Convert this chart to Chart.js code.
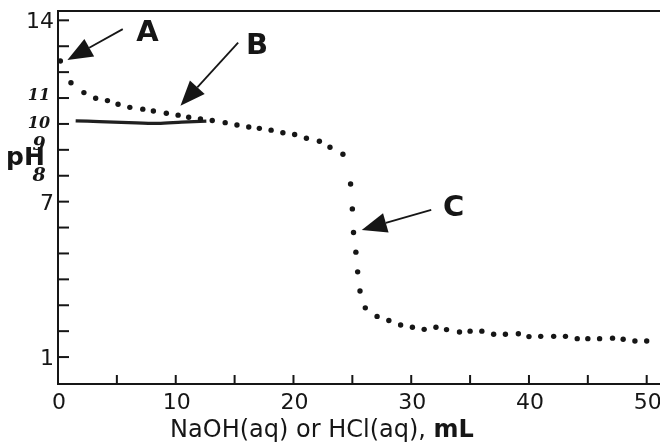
<!DOCTYPE html>
<html>
<head>
<meta charset="utf-8">
<script src="https://cdn.jsdelivr.net/npm/chart.js@4.4.1/dist/chart.umd.min.js"></script>
<style>
  html, body { margin: 0; padding: 0; background: #fff; }
  #wrap { width: 660px; height: 442px; }
</style>
</head>
<body>
<div id="wrap"><canvas id="chart" width="660" height="442"></canvas></div>
<script>
// Titration curve data
const volumeML = [0.2, 1.1, 2.2, 3.2, 4.2, 5.1, 6.1, 7.2, 8.1, 9.2, 10.2, 11.1, 12.1, 13.1, 14.2,
  15.2, 16.2, 17.1, 18.1, 19.1, 20.1, 21.1, 22.2, 23.1, 24.2, 24.85, 25.0, 25.1, 25.3, 25.45,
  25.65, 26.1, 27.1, 28.1, 29.1, 30.1, 31.1, 32.1, 33.0, 34.1, 35.0, 36.0, 37.0, 38.0, 39.1,
  40.0, 41.0, 42.1, 43.1, 44.1, 45.0, 46.0, 47.1, 48.0, 49.0, 50.0];
const phValues = [12.43, 11.59, 11.21, 10.99, 10.90, 10.76, 10.64, 10.57, 10.50, 10.41, 10.34, 10.26, 10.19, 10.13, 10.05,
  9.96, 9.88, 9.83, 9.76, 9.66, 9.59, 9.45, 9.33, 9.10, 8.83, 7.68, 6.72, 5.81, 5.05, 4.29,
  3.55, 2.90, 2.57, 2.41, 2.24, 2.15, 2.07, 2.15, 2.06, 1.97, 2.00, 2.00, 1.88, 1.88, 1.90,
  1.79, 1.80, 1.80, 1.80, 1.71, 1.71, 1.71, 1.73, 1.69, 1.62, 1.62];

// hand-drawn pen line across the plot
const penVolume = [1.5, 3.5, 6, 8.5, 10.5, 12.6];
const penPH = [10.12, 10.09, 10.05, 10.02, 10.07, 10.11];

// axes
const xTicks = [0, 5, 10, 15, 20, 25, 30, 35, 40, 45, 50];
const xLabels = ['0', '', '10', '', '20', '', '30', '', '40', '', '50'];
const yTicks = [1, 2, 3, 4, 5, 6, 7, 8, 9, 10, 11, 12, 13, 14];
const yLabels = ['1', '', '', '', '', '', '7', '', '', '', '', '', '', '14'];
const handNumbers = ['11', '10', '9', '8'];
const handValues = [11.1, 10.0, 9.2, 8.0];

// annotations: label, arrow tip (mL, pH), arrow tail, label position
const noteLabels = ['A', 'B', 'C'];
const noteTips = [[0.8, 12.47], [10.4, 10.7], [25.8, 5.91]];
const noteTails = [[5.5, 13.66], [15.3, 13.14], [31.7, 6.68]];
const notePos = [[7.6, 13.5], [16.9, 13.0], [33.6, 6.72]];

const INK = '#161616';
const FONT = "'DejaVu Sans', Verdana, sans-serif";

function arrow(ctx, x1, y1, x2, y2) {
  const ang = Math.atan2(y2 - y1, x2 - x1);
  const headLen = 25, headW = 10;
  const bx = x2 - headLen * Math.cos(ang), by = y2 - headLen * Math.sin(ang);
  ctx.beginPath();
  ctx.moveTo(x1, y1);
  ctx.lineTo(bx, by);
  ctx.lineWidth = 1.8;
  ctx.strokeStyle = INK;
  ctx.stroke();
  ctx.beginPath();
  ctx.moveTo(x2, y2);
  ctx.lineTo(bx + headW * Math.sin(ang), by - headW * Math.cos(ang));
  ctx.lineTo(bx - headW * Math.sin(ang), by + headW * Math.cos(ang));
  ctx.closePath();
  ctx.fillStyle = INK;
  ctx.fill();
}

const decor = {
  id: 'decor',
  afterDraw(chart) {
    const { ctx, chartArea: a, scales: { x, y } } = chart;
    ctx.save();
    // frame
    ctx.strokeStyle = INK;
    ctx.lineWidth = 2;
    ctx.beginPath();
    ctx.moveTo(a.right, a.top);
    ctx.lineTo(a.left, a.top);
    ctx.lineTo(a.left, a.bottom);
    ctx.lineTo(a.right, a.bottom);
    ctx.stroke();

    // ticks (inside) and labels
    ctx.fillStyle = INK;
    ctx.font = '22px ' + FONT;
    ctx.textAlign = 'center';
    ctx.textBaseline = 'alphabetic';
    xTicks.forEach((v, i) => {
      const px = x.getPixelForValue(v);
      ctx.beginPath();
      ctx.moveTo(px, a.bottom);
      ctx.lineTo(px, a.bottom - 9);
      ctx.stroke();
      if (xLabels[i]) ctx.fillText(xLabels[i], px + 1, a.bottom + 25);
    });
    ctx.textAlign = 'right';
    yTicks.forEach((v, i) => {
      const py = y.getPixelForValue(v);
      ctx.beginPath();
      ctx.moveTo(a.left, py);
      ctx.lineTo(a.left + 11, py);
      ctx.stroke();
      if (yLabels[i]) ctx.fillText(yLabels[i], a.left - 4, py + 8);
    });

    // axis titles
    const t1 = 'NaOH(aq) or HCl(aq), ';
    ctx.font = '24px ' + FONT;
    const w1 = ctx.measureText(t1).width;
    ctx.font = 'bold 24px ' + FONT;
    const w2 = ctx.measureText('mL').width;
    const sx = 322 - (w1 + w2) / 2;
    ctx.textAlign = 'left';
    ctx.font = '24px ' + FONT;
    ctx.fillText(t1, sx, a.bottom + 53);
    ctx.font = 'bold 24px ' + FONT;
    ctx.fillText('mL', sx + w1, a.bottom + 53);

    ctx.font = 'bold 25px ' + FONT;
    ctx.fillText('pH', 6, y.getPixelForValue(8.4));

    // handwritten numbers
    ctx.textAlign = 'center';
    ctx.textBaseline = 'middle';
    handNumbers.forEach((t, i) => {
      ctx.font = 'italic bold ' + (i < 2 ? 16 : 19) + 'px "DejaVu Serif", serif';
      ctx.fillText(t, a.left - 19, y.getPixelForValue(handValues[i]));
    });

    // annotation arrows
    noteLabels.forEach((t, i) => {
      arrow(ctx, x.getPixelForValue(noteTails[i][0]), y.getPixelForValue(noteTails[i][1]),
        x.getPixelForValue(noteTips[i][0]), y.getPixelForValue(noteTips[i][1]));
      ctx.font = 'bold 29px ' + FONT;
      ctx.fillStyle = INK;
      ctx.textAlign = 'center';
      ctx.textBaseline = 'middle';
      ctx.fillText(t, x.getPixelForValue(notePos[i][0]), y.getPixelForValue(notePos[i][1]));
    });
    ctx.restore();
  }
};

new Chart(document.getElementById('chart'), {
  type: 'scatter',
  data: {
    datasets: [
      {
        label: 'pH',
        data: volumeML.map((v, i) => ({ x: v, y: phValues[i] })),
        showLine: false,
        pointRadius: 2.7,
        pointBorderWidth: 0,
        pointBackgroundColor: INK
      },
      {
        label: 'pen',
        data: penVolume.map((v, i) => ({ x: v, y: penPH[i] })),
        showLine: true,
        borderColor: '#202020',
        borderWidth: 3.2,
        tension: 0.3,
        pointRadius: 0
      }
    ]
  },
  options: {
    responsive: false,
    animation: false,
    layout: { autoPadding: false, padding: { left: 58, top: 11, right: 0, bottom: 58 } },
    scales: {
      x: { type: 'linear', min: 0, max: 51.13, display: false },
      y: { type: 'linear', min: -0.04, max: 14.36, display: false }
    },
    plugins: { legend: { display: false }, tooltip: { enabled: false } }
  },
  plugins: [decor]
});
</script>
</body>
</html>
